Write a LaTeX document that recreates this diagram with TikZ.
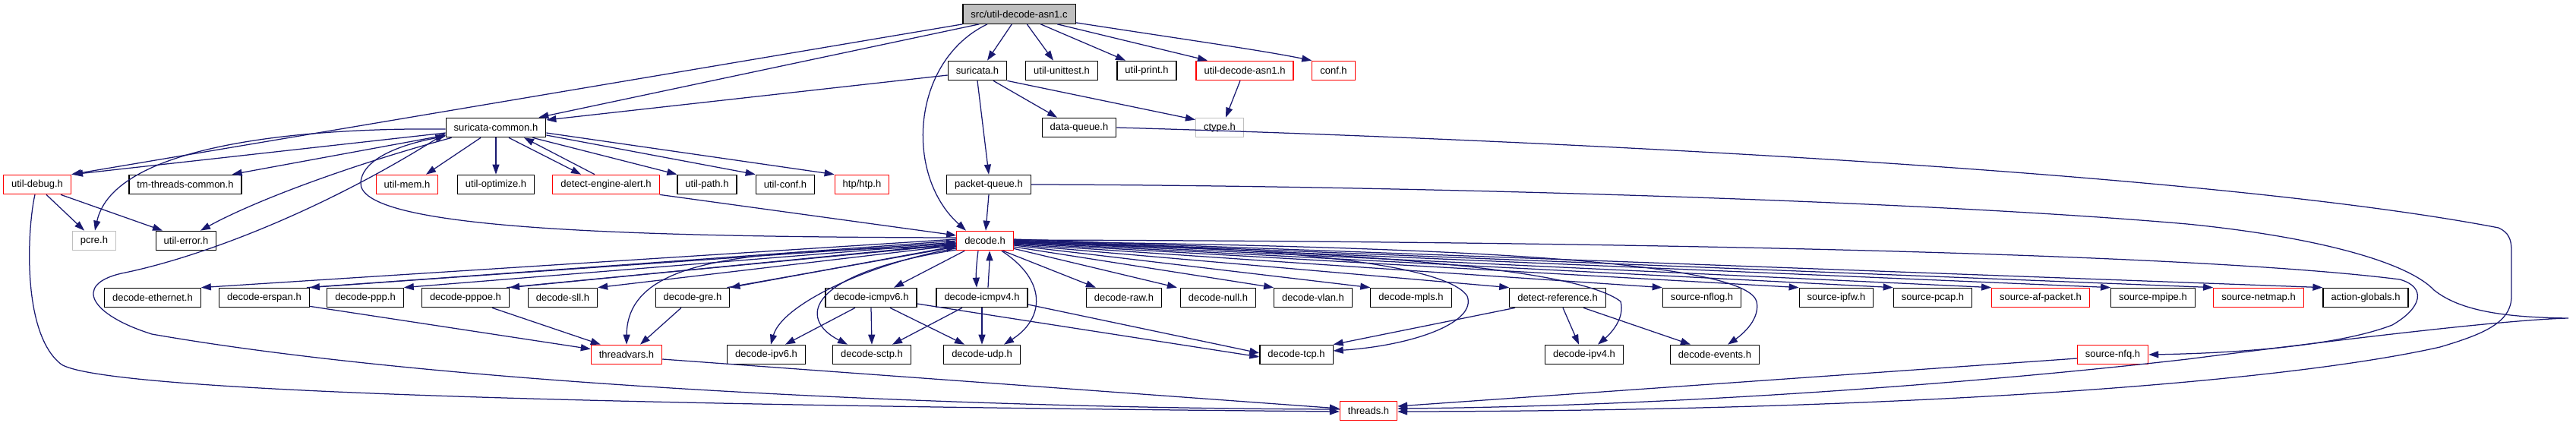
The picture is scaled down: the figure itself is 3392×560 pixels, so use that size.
\documentclass[tikz,border=0pt]{standalone}
\usepackage{fontspec}
\setmainfont{Liberation Sans}
\usetikzlibrary{arrows.meta}
\definecolor{edgeblue}{HTML}{191970}
\definecolor{srcgray}{HTML}{BFBFBF}
\definecolor{lightgrayb}{HTML}{BFBFBF}
\tikzset{
  box/.style={draw=black, fill=white, line width=1.2pt, rectangle, minimum height=25.5pt,
              inner xsep=10.5pt, inner ysep=0pt, font=\fontsize{13}{15}\selectfont},
  rbox/.style={box, draw=red},
  gbox/.style={box, draw=lightgrayb},
  srcbox/.style={box, fill=srcgray},
  edge/.style={draw=edgeblue, line width=1.25pt, -{Triangle[length=13pt,width=9pt]}}
}
\begin{document}
\begin{tikzpicture}[x=1pt,y=-1pt]
\useasboundingbox (0,0) rectangle (3392,560);
% row 0
\node[srcbox] (src) at (1342,18.5) {src/util-decode-asn1.c};
% row 1
\node[box] (suricata) at (1287,93) {suricata.h};
\node[box] (unittest) at (1398,93) {util-unittest.h};
\node[box] (print) at (1510,93) {util-print.h};
\node[rbox] (asnh) at (1639,93) {util-decode-asn1.h};
\node[rbox] (conf) at (1756,93) {conf.h};
% row 2
\node[box] (scommon) at (653,168) {suricata-common.h};
\node[box] (dqueue) at (1421,168) {data-queue.h};
\node[gbox] (ctype) at (1606,168) {ctype.h};
% row 3
\node[rbox] (udebug) at (49,243) {util-debug.h};
\node[box] (tmtc) at (244,243) {tm-threads-common.h};
\node[rbox] (umem) at (536,243) {util-mem.h};
\node[box] (uopt) at (653,243) {util-optimize.h};
\node[rbox] (dea) at (798,243) {detect-engine-alert.h};
\node[box] (upath) at (931,243) {util-path.h};
\node[box] (uconf) at (1034,243) {util-conf.h};
\node[rbox] (htp) at (1135,243) {htp/htp.h};
\node[box] (pqueue) at (1302,243) {packet-queue.h};
% row 4
\node[gbox] (pcre) at (124,317) {pcre.h};
\node[box] (uerror) at (245,317) {util-error.h};
\node[rbox] (dec) at (1297,317) {decode.h};
% row 5
\node[box] (eth) at (201,392) {decode-ethernet.h};
\node[box] (erspan) at (348,392) {decode-erspan.h};
\node[box] (ppp) at (481,392) {decode-ppp.h};
\node[box] (pppoe) at (613,392) {decode-pppoe.h};
\node[box] (sll) at (741,392) {decode-sll.h};
\node[box] (gre) at (912,392) {decode-gre.h};
\node[box] (icmpsix) at (1147,392) {decode-icmpv6.h};
\node[box] (icmpfour) at (1293,392) {decode-icmpv4.h};
\node[box] (raw) at (1480,392) {decode-raw.h};
\node[box] (null) at (1604,392) {decode-null.h};
\node[box] (vlan) at (1729,392) {decode-vlan.h};
\node[box] (mpls) at (1858,392) {decode-mpls.h};
\node[box] (detref) at (2051,392) {detect-reference.h};
\node[box] (nflog) at (2241,392) {source-nflog.h};
\node[box] (ipfw) at (2418,392) {source-ipfw.h};
\node[box] (pcap) at (2545,392) {source-pcap.h};
\node[rbox] (afp) at (2687,392) {source-af-packet.h};
\node[box] (mpipe) at (2835,392) {source-mpipe.h};
\node[rbox] (netmap) at (2974,392) {source-netmap.h};
\node[box] (actg) at (3115,392) {action-globals.h};
% row 6
\node[rbox] (tv) at (825,467) {threadvars.h};
\node[box] (ipsix) at (1009,467) {decode-ipv6.h};
\node[box] (sctp) at (1148,467) {decode-sctp.h};
\node[box] (udp) at (1293,467) {decode-udp.h};
\node[box] (tcp) at (1707,467) {decode-tcp.h};
\node[box] (ipfour) at (2086,467) {decode-ipv4.h};
\node[box] (events) at (2258,467) {decode-events.h};
\node[rbox] (nfq) at (2782,467) {source-nfq.h};
% row 7
\node[rbox] (threads) at (1802,541) {threads.h};

% ---- edges from src
\draw[edge] (src.south west) -- (udebug.north east);
\draw[edge] ([shift={(22,0)}]src.south west) -- ([shift={(-10,0)}]scommon.north east);
\draw[edge] ([shift={(65,0)}]src.south west) -- ([shift={(13,0)}]suricata.north);
\draw[edge] ([shift={(85,0)}]src.south west) -- ([shift={(-11,0)}]unittest.north);
\draw[edge] ([shift={(103,0)}]src.south west) -- ([shift={(-28,0)}]print.north);
\draw[edge] ([shift={(125,0)}]src.south west) -- ([shift={(-49,0)}]asnh.north);
\draw[edge] ([shift={(0,-2)}]src.south east) .. controls (1560,52) and (1660,66) .. (conf.north west);
\draw[edge] ([shift={(-42,0)}]src.south) .. controls (1200,80) and (1190,230) .. ([shift={(-25,0)}]dec.north);
% ---- suricata.h
\draw[edge] ([shift={(0,6)}]suricata.west) -- ([shift={(0,-10)}]scommon.east);
\draw[edge] ([shift={(21,0)}]suricata.south) -- ([shift={(-29,0)}]dqueue.north);
\draw[edge] (suricata.south east) -- ([shift={(0,3)}]ctype.north west);
\draw[edge] (suricata.south) -- (pqueue.north);
\draw[edge] ([shift={(-6,0)}]asnh.south) -- ([shift={(8,0)}]ctype.north);
% ---- suricata-common.h
\draw[edge] ([shift={(0,7)}]scommon.west) -- ([shift={(2,0)}]udebug.north east);
\draw[edge] ([shift={(0,10)}]scommon.west) -- ([shift={(-13,0)}]tmtc.north east);
\draw[edge] ([shift={(0,2)}]scommon.west) .. controls (400,168) and (150,190) .. ([shift={(1,0)}]pcre.north);
\draw[edge] ([shift={(8,0)}]scommon.south west) .. controls (470,215) and (340,262) .. ([shift={(19,0)}]uerror.north);
\draw[edge] ([shift={(-20,0)}]scommon.south) -- ([shift={(25,0)}]umem.north);
\draw[edge] (scommon.south) -- (uopt.north);
\draw[edge] ([shift={(17,0)}]scommon.south) -- ([shift={(-33,0)}]dea.north);
\draw[edge] ([shift={(-15,0)}]dea.north) -- ([shift={(37,0)}]scommon.south);
\draw[edge] ([shift={(-18,0)}]scommon.south east) -- (upath.north west);
\draw[edge] ([shift={(0,10)}]scommon.east) -- (uconf.north west);
\draw[edge] ([shift={(0,7)}]scommon.east) -- (htp.north west);
% ---- util-debug.h
\draw[edge] ([shift={(12,0)}]udebug.south) -- ([shift={(-13,0)}]pcre.north);
\draw[edge] ([shift={(31,0)}]udebug.south) -- ([shift={(-31,0)}]uerror.north);
\draw[edge] ([shift={(-3,0)}]udebug.south) .. controls (36,300) and (28,440) .. (81,480)
   .. controls (130,510) and (600,532) .. ([shift={(0,1)}]threads.west);
% ---- threads.h -> suricata-common.h
\draw[edge] ([shift={(0,-2)}]threads.west) .. controls (1300,538) and (600,510) .. (200,440)
   .. controls (120,415) and (95,375) .. (160,360)
   .. controls (260,340) and (420,280) .. ([shift={(0,-6)}]scommon.south west);
% ---- into decode.h
\draw[edge] (pqueue.south) -- ([shift={(1,0)}]dec.north);
\draw[edge] (dea.south east) -- ([shift={(0,-7)}]dec.west);
% decode.h -> suricata-common.h loop
\draw[edge] ([shift={(0,-4)}]dec.west) .. controls (800,312) and (470,300) .. (475,240)
   .. controls (478,205) and (540,188) .. ([shift={(0,-2)}]scommon.south west);
% ---- decode.h left fan
\draw[edge] ([shift={(0,-2)}]dec.west) -- (eth.north east);
\draw[edge] ([shift={(0,0)}]dec.west) -- (erspan.north east);
\draw[edge] ([shift={(-4,0)}]erspan.north east) -- ([shift={(0,2)}]dec.west);
\draw[edge] ([shift={(0,3)}]dec.west) -- (ppp.north east);
\draw[edge] ([shift={(0,4)}]dec.west) -- (pppoe.north east);
\draw[edge] ([shift={(-4,0)}]pppoe.north east) -- ([shift={(0,5)}]dec.west);
\draw[edge] ([shift={(0,6)}]dec.west) -- (sll.north east);
\draw[edge] ([shift={(0,7)}]dec.west) -- (gre.north east);
\draw[edge] ([shift={(-4,0)}]gre.north east) -- ([shift={(0,8)}]dec.west);
\draw[edge] ([shift={(0,8)}]dec.west) .. controls (1000,330) and (826,335) .. (tv.north);
\draw[edge] ([shift={(0,10)}]dec.west) .. controls (1150,345) and (1030,400) .. ([shift={(6,0)}]ipsix.north);
\draw[edge] ([shift={(0,12)}]dec.west) .. controls (1060,360) and (1050,420) .. ([shift={(-32,0)}]sctp.north);
% ---- decode.h down
\draw[edge] ([shift={(11,0)}]dec.south west) -- ([shift={(30,0)}]icmpsix.north);
\draw[edge] ([shift={(-9,0)}]dec.south) .. controls (1286,345) and (1285,360) .. ([shift={(-7,0)}]icmpfour.north);
\draw[edge] ([shift={(8,0)}]icmpfour.north) .. controls (1302,360) and (1303,345) .. ([shift={(6,0)}]dec.south);
\draw[edge] ([shift={(-16,0)}]dec.south east) .. controls (1380,370) and (1375,420) .. ([shift={(29,0)}]udp.north);
% ---- icmp
\draw[edge] ([shift={(-21,0)}]icmpsix.south) -- ([shift={(25,0)}]ipsix.north);
\draw[edge] (icmpsix.south) -- (sctp.north);
\draw[edge] ([shift={(25,0)}]icmpsix.south) -- ([shift={(-23,0)}]udp.north);
\draw[edge] ([shift={(0,8)}]icmpsix.east) -- ([shift={(0,3)}]tcp.west);
\draw[edge] ([shift={(-26,0)}]icmpfour.south) -- ([shift={(27,0)}]sctp.north);
\draw[edge] (icmpfour.south) -- (udp.north);
\draw[edge] ([shift={(0,9)}]icmpfour.east) -- ([shift={(0,-2)}]tcp.west);
% ---- to threadvars
\draw[edge] ([shift={(-15,0)}]gre.south) -- ([shift={(18,0)}]tv.north);
\draw[edge] ([shift={(0,-2)}]erspan.south east) -- ([shift={(0,6)}]tv.north west);
\draw[edge] ([shift={(35,0)}]pppoe.south) -- ([shift={(13,0)}]tv.north west);
\draw[edge] ([shift={(0,6)}]tv.east) -- ([shift={(0,-3)}]threads.west);
% ---- decode.h right fan
\draw[edge] ([shift={(-14,0)}]dec.south east) -- ([shift={(13,0)}]raw.north west);
\draw[edge] ([shift={(0,-3)}]dec.south east) -- ([shift={(-4,0)}]null.north west);
\draw[edge] ([shift={(0,8)}]dec.east) -- (vlan.north west);
\draw[edge] ([shift={(0,6)}]dec.east) -- (mpls.north west);
\draw[edge] ([shift={(0,5)}]dec.east) -- (detref.north west);
\draw[edge] ([shift={(0,4)}]dec.east) -- (nflog.north west);
\draw[edge] ([shift={(0,3)}]dec.east) -- (ipfw.north west);
\draw[edge] ([shift={(0,2)}]dec.east) -- (pcap.north west);
\draw[edge] ([shift={(0,1)}]dec.east) -- (afp.north west);
\draw[edge] ([shift={(0,0)}]dec.east) -- (mpipe.north west);
\draw[edge] ([shift={(0,-1)}]dec.east) -- (netmap.north west);
\draw[edge] ([shift={(0,-2)}]dec.east) -- (actg.north west);
\draw[edge] ([shift={(0,2)}]dec.east) .. controls (1600,322) and (1900,340) .. (1932,390)
   .. controls (1945,425) and (1860,455) .. ([shift={(0,-5)}]tcp.east);
\draw[edge] ([shift={(0,3)}]dec.east) .. controls (1800,330) and (2080,355) .. (2134,397)
   .. controls (2140,420) and (2120,440) .. ([shift={(18,0)}]ipfour.north);
\draw[edge] ([shift={(0,1)}]dec.east) .. controls (2000,325) and (2300,350) .. (2313,397)
   .. controls (2318,420) and (2295,440) .. ([shift={(17,0)}]events.north);
\draw[edge] ([shift={(0,-1)}]dec.east) .. controls (2200,318) and (2900,335) .. (3160,368)
   .. controls (3195,378) and (3190,405) .. (3150,428)
   .. controls (3080,455) and (2950,465) .. (nfq.east);
% ---- detect-reference.h
\draw[edge] ([shift={(-56,0)}]detref.south) -- (tcp.north east);
\draw[edge] ([shift={(7,0)}]detref.south) -- ([shift={(-7,0)}]ipfour.north);
\draw[edge] ([shift={(34,0)}]detref.south) -- ([shift={(-32,0)}]events.north);
% ---- into threads.h from the right
\draw[edge] ([shift={(0,5)}]nfq.west) -- ([shift={(0,-6)}]threads.east);
\draw[edge] (pqueue.east) .. controls (1800,244) and (2500,262) .. (2880,295)
   .. controls (3050,312) and (3170,345) .. (3205,382)
   .. controls (3240,410) and (3300,418) .. (3382,419)
   .. controls (3300,421) and (3100,445) .. (2880,473)
   .. controls (2600,505) and (2200,535) .. ([shift={(0,-3)}]threads.east);
\draw[edge] (dqueue.east) .. controls (2000,183) and (2900,225) .. (3290,300)
   .. controls (3303,306) and (3307,315) .. (3307,330) -- (3307,390)
   .. controls (3307,425) and (3270,440) .. (3213,457)
   .. controls (3000,505) and (2500,541) .. ([shift={(0,1)}]threads.east);
\end{tikzpicture}
\end{document}
